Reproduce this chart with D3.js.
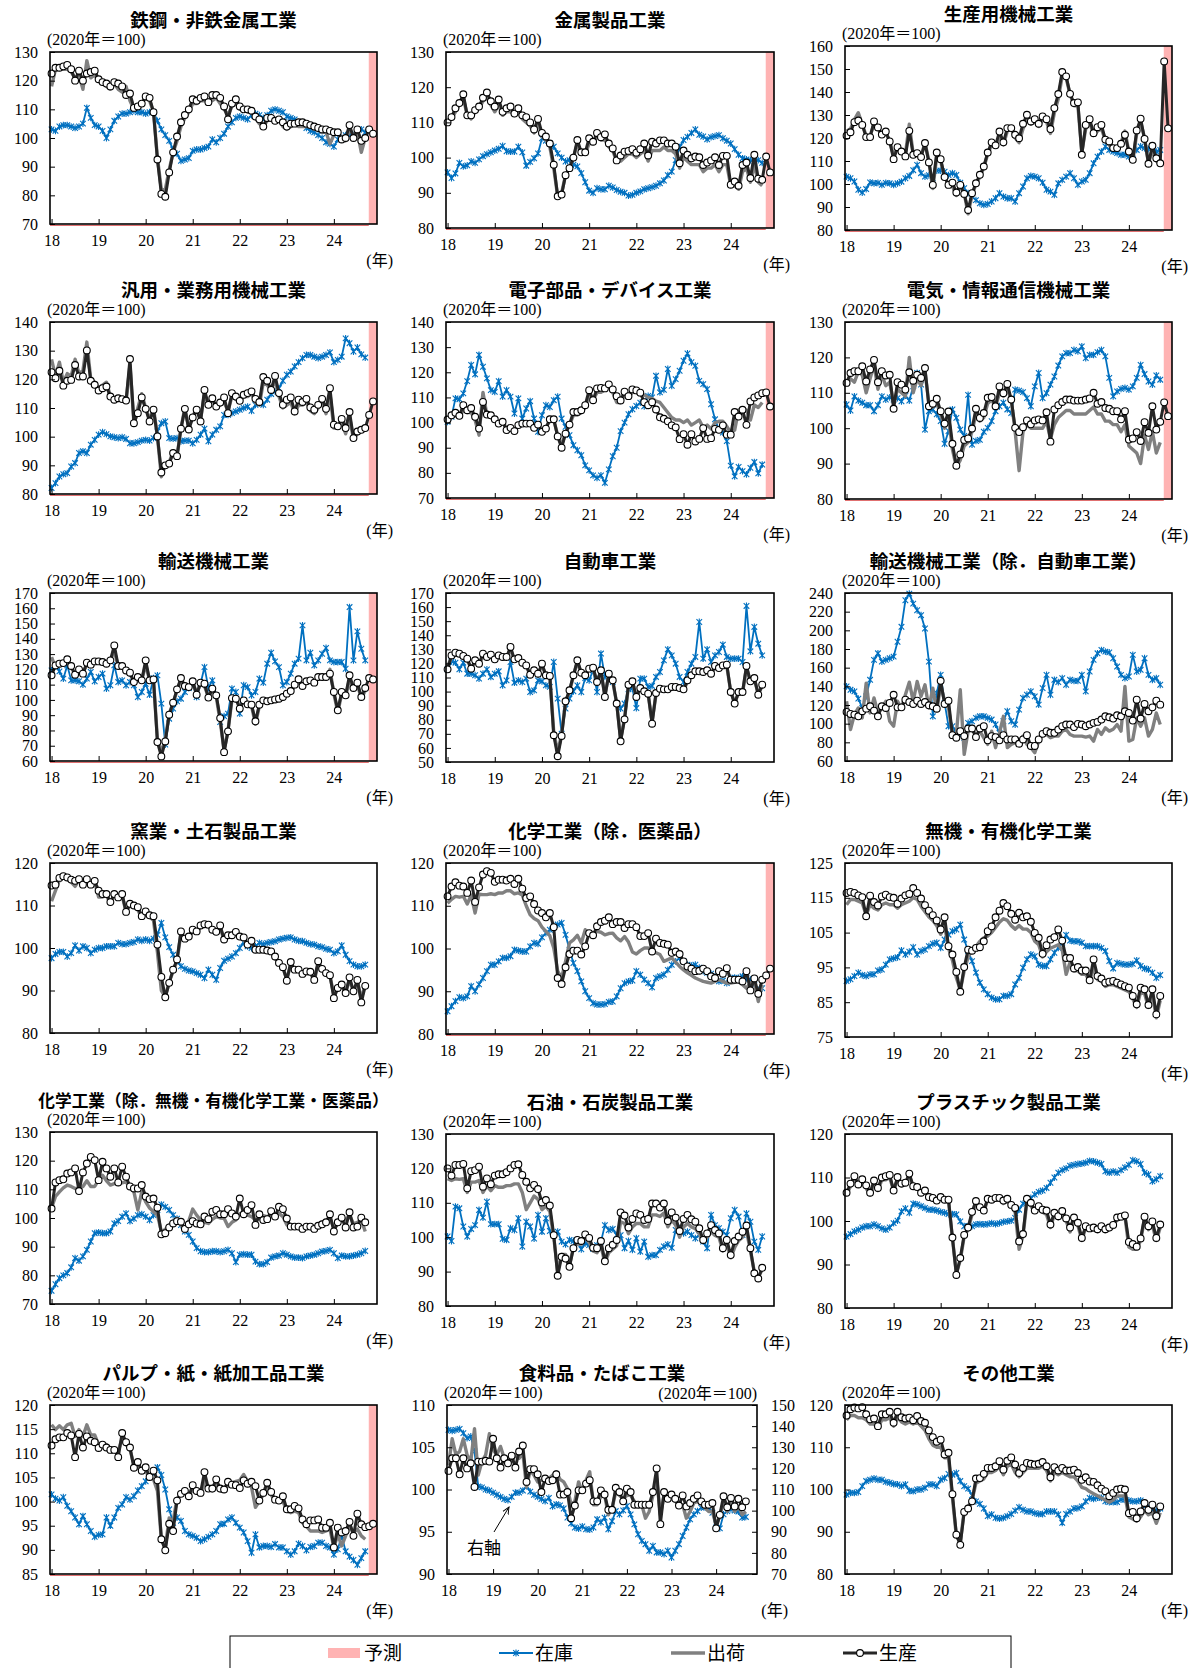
<!DOCTYPE html>
<html>
<head>
<meta charset="utf-8">
<script src="https://cdn.jsdelivr.net/npm/d3@7"></script>
<style>
  body { margin: 0; background: #fff; }
  svg text { font-family: "Liberation Serif", "Noto Sans CJK JP", serif; fill: #000; }
  .axis text { font-size: 16px; }
  .title { font-family: "Noto Sans CJK JP", sans-serif !important; font-weight: bold; font-size: 18.5px; }
  .sub { font-size: 16px; }
  .legend text { font-size: 19px; }
</style>
</head>
<body>
<svg id="chart" width="1195" height="1668"></svg>
<script>
// month index 0 = 2018/01 ... 80 = 2024/09, 81-82 = forecast

// 鉄鋼・非鉄金属工業
const prod1 = [122.5,124.5,124.5,125,125.5,124,120,123.5,120,122.5,123,123.5,
  120.5,119.5,119,118,119.5,119,118,115,115.5,110.5,111,112,
  114.5,114,109,92.5,80.5,79.5,88,95,100.5,105.5,108,110,
  113.5,113,114,114.5,112.5,115,115,114,111,106.5,112,113.5,
  111,110,110,109.5,107.5,106.5,104,107,107,106,106.5,105.5,
  104,105,105,105.5,105.5,105,104.5,104,103.5,103,103,102.5,
  102,102,99.5,100,104.5,100,103,99,100,103,101.5];
const ship1 = [118,124,124,124,124,123,121,122,117,127,121,122,
  120,119,118,117,119,117,116,118,113,110,111,112,
  114,113,109,93,82,82,89,95,99,104,107,109,
  112,112,113,113,113,113,114,112,110,108,111,112,
  110,110,109,109,107,105,104,106,107,106,107,104,
  103,104,105,104,104,104,104,103,103,102,102,98,
  101,102,100,99,103,101,102,95,100];
const inv1 = [103,102.5,104,104.5,104.5,104,103.5,104,105,110.5,107,104.5,
  104,102.5,100,103,106,107.5,108.5,108.5,109,109.5,109,109,
  108.5,109,109,106,103,101,99,96,94.5,92,92.5,93,
  95.5,96,96,96.5,97,99.5,98.5,100,101.5,104,105.5,107,
  107.5,107,106.5,108,108.5,108,107,108,109.5,110,109.5,109,
  107.5,107,106.5,105.5,105,103.5,102.5,102,101,100,98.5,98,
  97,99.5,100,101,101.5,101,102,103,102];

// 金属製品工業
const prod2 = [110,111.5,114,115.5,118,112,112,113.5,114.5,117,118.5,116,
  114.5,116.5,113,114,114.5,112.5,114,112,111.5,110,108,111,
  107,106,104,98,89,89.5,95,97,100,105,101.5,101.5,
  105.5,104.5,107,105.8,106.6,104,102.6,99.2,100.6,101.7,101.9,102.4,
  101.4,102.4,104,100.6,104.5,104,104.9,104.9,104,104,103.1,98.4,
  102,100.8,99.8,100.3,100.1,97.9,98.6,99.2,100.1,97.9,100.5,100.5,
  92.3,93.2,92,97.9,98.6,94.2,100.8,94,93.7,100.3,95.8];
const ship2 = [110,111,113,115,117,112,111,113,114,116,117,115,
  113,115,112,113,113,112,113,111,110,109,107,110,
  106,105,103,97,89,90,95,97,100,104,101,101,
  104,104,106,105,105,103,102,99,99,100,101,101,
  100,101,102,99,102,102,102,103,102,102,101,97,
  100,99,98,98,98,96,97,97,98,96,98,98,
  92,92,91,96,97,93,98,93,92];
const inv2 = [95.8,94.2,95.5,98.5,97.5,97.8,98.9,98.5,99.5,100.4,101,101.5,
  102,102.5,103.3,101.8,101.7,101.7,103.1,101.5,97.7,98.8,99.8,101.2,
  105.5,104.8,104,103.1,101.2,100,98.9,99.3,98,97.5,95.6,93,
  90.6,90,91.3,91,91,92,91.5,90.8,90.3,90,89.2,89.4,
  90,90.4,91,91.3,91.6,92,92.7,93.5,95,96,99.3,103,
  105,105.9,107,108,106.5,106,105.2,105.8,106.1,106.4,105.5,104.8,
  104,102.4,100.8,99.8,99.5,99.3,98.9,99.3,98.5];

// 生産用機械工業
const prod3 = [121,122.5,126.9,127.6,125.7,120.4,120.4,127.2,124.6,121.5,122.8,118.5,
  110.8,116,114.1,112,123.1,112.7,113.4,111.7,117.8,109.4,99.6,113.7,
  110.8,103,99.6,100.6,96.3,99.6,95.7,88.7,96,100.3,104,107.6,
  113.7,118.1,116.8,122.8,118.1,124.3,124.3,121.4,119.9,126.2,130.1,127.2,
  128.2,126.2,129.4,128.2,123.9,133,139.1,148.7,146.8,139.2,135.2,135.5,
  112.7,125.7,128.2,122.1,124.7,125.7,119.3,118.5,115.6,115.6,117.5,121.4,
  114.1,110.5,123.3,128.4,119.6,108.8,116.6,111.2,109,153.3,124.2];
const ship3 = [123,124,128,131,126,121,121,126,124,121,122,119,
  112,116,115,113,126,113,114,112,118,110,98,112,
  110,103,100,99,95,99,96,87,95,100,103,107,
  113,117,116,121,117,123,124,120,118,124,128,126,
  127,125,128,127,122,131,137,147,146,139,134,134,
  114,124,127,121,123,124,119,117,115,115,118,123,
  114,110,122,127,120,109,115,110,108];
const inv3 = [103.2,102.5,101.1,97.5,96.3,97.8,100.7,100.3,100.5,99.6,100.5,100.3,
  99.6,100.3,101,102.5,103.5,106,108.3,104.7,103.2,103.8,102.5,105.8,
  105.8,105.4,103.9,104.7,103.9,100.6,98.2,96,94.5,93,91.6,90.9,
  91.3,92.4,93.8,96,94.5,93.8,93.8,92.4,96,98.9,102.5,103.5,
  103.2,102.5,100.6,97.5,96.7,95.3,100.3,101.8,103.2,104.7,102.5,99.6,
  101.1,101.8,104.7,109,111.9,114.1,116.3,114.8,114.1,113.4,112.7,112.7,
  111.9,113.1,114.8,116.3,115.6,115.2,116.3,114.1,114.8];

// 汎用・業務用機械工業
const prod4 = [122.5,120.4,123,117.8,119.5,119.8,125,121,121,130.1,119.5,118.1,
  116.1,116.9,117.5,114,112.9,113.4,113.1,112.6,127.1,104.7,108.2,113.7,
  109.7,105.3,109.4,100.1,87.5,90,90.6,94.3,93.2,102.8,109.7,102.5,
  106.7,109.4,105.3,116.3,111.1,113.4,110.5,111.9,113.7,108.2,115.2,114,
  112.5,114.6,115.2,115.8,113.2,112.1,120.8,119.5,116.3,121.2,115.2,111.1,
  112.9,113.7,108.8,112.9,112.1,113.2,110.2,109.4,111.1,113.2,109.7,116.9,
  104.2,103.6,106.2,103,108.6,99.5,101.8,102.4,103,107.6,112.3];
const ship4 = [127,121,126,119,122,121,127,122,123,133,120,119,
  117,118,119,114,113,114,113,112,125,105,110,115,
  110,106,110,100,86,90,91,95,93,103,110,103,
  107,110,106,115,111,113,110,111,112,109,114,113,
  112,114,114,115,112,111,119,118,116,120,114,110,
  111,112,108,111,111,112,109,108,110,112,108,115,
  103,103,105,101,107,99,101,102,103];
const inv4 = [82.1,83.8,86.1,86.9,87.3,89.6,90.8,94.3,94.9,94.3,97.2,98.9,
  100.7,101.6,100.9,100.1,99.8,99.5,99.8,99.2,97.7,97.7,98.1,98.6,
  98.9,98.6,99.5,101.8,104.7,105.3,99.5,99.3,99.5,98.4,98.6,98.6,
  97.7,98.9,100.7,102.8,98.4,100.7,102.4,103.6,107.6,107.6,108.2,108.8,
  109.4,110,110.5,109,111.1,111.7,111.1,112.9,114.9,115.8,116.9,119.5,
  121.6,122.7,124.5,126,127.4,128.5,128.5,127.9,127.4,127.9,128.5,129.4,
  126,126.8,127.9,134.3,132.6,129.7,131.1,128.7,127.6];

// 電子部品・デバイス工業
const prod5 = [101.2,102.9,103.9,102.7,106.9,104.9,105.8,102.3,97.6,108.2,103.2,102.9,
  101.3,99.6,100.3,97,97.9,96.6,99,99.6,99.6,99.6,97.9,99.2,
  96.3,97.6,101.3,101.3,94.5,90,95.6,99.2,104.2,104.2,104.9,106.9,
  112.9,108.9,113.6,113.8,113.6,115.2,113.2,110.5,108.8,112.3,110.5,113.2,
  112.8,111.9,108.1,106.9,108.1,105.2,102.1,101.5,100.5,98.9,98.1,93.4,
  95.4,91.2,95.4,92.5,93.5,97.8,93.5,93.8,97.5,97.1,98.9,95.2,
  95.2,104.2,102.4,105.1,99.1,108.4,110,110.8,111.7,112,106.4];
const ship5 = [100,102,103,102,105,104,104,101,95,112,103,102,
  101,100,100,98,98,97,99,100,100,100,98,99,
  97,98,101,101,95,91,96,99,103,103,104,106,
  111,109,112,112,113,115,112,108,108,111,110,112,
  112,111,111,110,109.6,108.5,108,106,104,102,101,101,
  100,101,99,100,101,98,99,97.5,100,100.5,100.5,98.5,
  96,97,105,104,105,101,107,106,108];
const inv5 = [100.3,102.3,109.6,109.3,111.6,116.5,122.9,119.2,126.9,122.2,117.6,112.9,
  112.2,116.5,110.3,112.9,110.3,103.6,109.6,101.6,105.6,108.5,101.6,96.3,
  102.9,106.9,106.2,108.9,110.3,101.6,98.3,95,91,89,87,83,
  81,79,78,79,76,81.4,86.6,90,96.6,100,103.3,105.3,
  106.6,107.9,106.5,110.6,110,118.6,112,113,121.3,114.6,117.3,120.6,
  124.6,127.5,124,122.6,116.6,115.3,113.3,107.3,101.3,97.3,96,92.6,
  82.9,78.6,82.4,80.7,79.4,82,84.3,79.8,83.3];

// 電気・情報通信機械工業
const prod6 = [112.8,115.6,116.1,116.1,117.5,113.2,116.6,119.3,113,116.1,114.9,115.1,
  105.5,113,112.3,110.9,115.8,113.4,115.1,114.2,117,106.2,106.9,108.3,
  104.8,101.3,104.7,95.6,89.4,92.6,96.7,97.1,99.9,105.5,102.9,104.3,
  108.6,108.8,106.2,111.8,109.9,112.5,108.1,100.1,98.9,100.3,102.2,101.1,
  102.2,102.5,102.2,104.5,96.2,105.3,106.5,107.4,108.1,108.1,107.8,107.8,
  107.8,108.1,108.4,110,106.9,107.4,105.7,105.5,104.8,104.8,102.5,104.8,
  96.8,97.1,98.9,96.4,101.7,98.7,106.2,99.6,101.8,107.3,103.4];
const ship6 = [113,114,113,116,115,110,114,118,111,115,112,113,
  107,111,110,109,120,110,114,112,116,107,106,107,
  104,100,103,94,89,91,95,96,99,104,102,103,
  107,108,106,110,109,111,108,99,88,99,101,100,
  100,100,100,102,97,101,103,104,105,105,104,104,
  104,104,105,106,104,104,102,102,101,101,99,101,
  95,94,93,90,98,94,99,93,96];
const inv6 = [106.7,105,109,107.8,107.2,106.5,106.5,104.8,106.5,109,108.1,108.7,
  108.1,108.5,107.6,109.2,107.8,111.8,115.6,112.3,99.6,104.8,105.3,103.9,
  102,95.6,99.2,105.3,102.9,99.6,97.8,109.4,95.4,96.4,96.7,99,
  100.1,102,104.8,106.2,107.2,105.3,104.3,110.9,110.6,110.2,108.5,106.2,
  111.8,115.6,108.5,109.9,112.3,114.6,117.7,120.3,121.2,121.2,122.1,121.7,
  123.1,119.8,120.7,120.7,121.5,122.1,120.3,114.2,109,110.4,111.1,111.4,
  110.9,111.8,114.2,117.9,115.3,113.2,112.3,114.9,113.7];

// 輸送機械工業
const prod7 = [116.1,122.6,123.7,124.1,126.6,122.2,116.5,120,117.2,124.4,123.1,125.2,
  125.2,124.8,123.7,125.9,135.7,122.2,122.2,119.3,117.8,111.7,115,112.8,
  125.9,112.8,113.4,72.4,63,72.8,90.3,98.2,106.9,114.3,109.1,108.4,
  112.2,103.4,111.3,110.6,101.5,107.4,103,88.1,65.8,79.4,101.2,100.8,
  94.3,99.7,97.1,96.9,86,96.9,99.7,99.1,99.7,100.3,100.8,101.9,
  104.1,105.8,110,113.5,109.1,112.2,112.8,111.3,115,115,115,117.2,
  105.2,93.2,105.2,103,116.1,107.8,111.3,101.9,107.8,114.3,113.4];
const ship7 = [128,121,123,124,125,121,117,119,118,123,124,126,
  126,125,123,126,132,122,121,119,117,112,114,113,
  123,113,113,74,66,74,91,98,106,113,109,108,
  112,104,111,109,102,106,102,86,67,80,100,102,
  95,99,98,96,84,96,99,99,99,100,100,101,
  103,105,109,112,109,111,112,111,114,114,114,120,
  104,92,104,102,114,107,110,101,106];
const inv7 = [119.3,122.2,118.7,113.9,122.6,112.8,112.8,112.2,110,113.9,118.3,112.2,
  115,117.2,107.4,109.6,122.6,111.7,112.8,109.6,111.7,109.6,101.9,105.2,
  110.6,103.4,114.3,116.1,97.6,70.7,87.7,94.3,99.1,100.8,105.2,107.8,
  110.6,101.9,110.6,121.5,107.8,112.8,103,85.5,89.4,91,107.4,105.2,
  91,109.6,108.4,103,105.2,113.9,111.3,123.7,130.9,125.2,121.5,109.6,
  111.7,117.2,123.7,127,148.8,125.9,130.9,122.6,125.9,130.2,134,125.9,
  124.8,124.8,124.8,120.4,160.8,125.9,144.9,133.5,125.9];

// 自動車工業
const prod8 = [115.8,125.7,127.6,126.9,125.3,123.4,116.3,122.2,119.8,126.9,124.6,126.2,
  122.9,125.7,124.6,124.6,131.7,122.9,123.8,120.5,118.6,112,115.1,112.7,
  119.8,111.6,111.1,69,54.1,68.5,93.1,100.9,111.6,122.2,113.4,111.6,
  116.3,117,106.8,115.1,96.2,112.7,108,91.5,64.7,80.3,104.9,107.3,
  96.2,102.5,100.2,98.5,77.2,99,102.1,101.6,101.6,103.3,103.3,102.5,
  101.6,108,111.6,114.4,114.4,113.9,115.1,112.7,118.2,116.7,118.6,119.1,
  99.7,91.5,99.7,99.7,118.2,107.3,109.6,97.8,104.9];
const ship8 = [118,124,126,126,124,122,117,121,119,125,124,125,
  123,125,124,124,130,122,123,120,118,112,115,113,
  118,112,111,71,57,70,93,100,111,121,113,111,
  116,116,107,114,97,112,107,92,66,81,104,107,
  96,102,100,98,79,98,101,101,101,103,103,102,
  101,107,111,114,114,113,115,112,117,116,118,118,
  100,92,99,99,117,107,109,98,104];
const inv8 = [115.8,121.5,120.5,115.8,120.5,112.7,112.7,111.6,109.2,112.7,115.8,110.4,
  112.7,114.4,104.4,108,121,106.3,108,106.8,109.2,99.7,100.9,108,
  107.3,104.4,103.3,121,95,70.1,87.9,95,100.2,104.4,99.7,109.6,
  108,115.1,99.7,127,110.4,112.7,106.8,91.5,87.9,91.5,101.6,102.1,
  88.3,109.2,109.2,103.3,104,110.4,113.9,122.2,130,125.7,119.8,110.4,
  106.8,113.9,119.8,124.6,149.4,123.4,130,121,125.7,128.1,133.3,124.6,
  123.4,123.4,123.4,121,160.8,128.6,145.9,134,125.7];

// 輸送機械工業（除．自動車工業）
const prod9 = [112.6,110.4,109.7,107.9,113.3,116.1,118.6,114,107.9,118.6,116.8,122.2,
  131,117.5,117.5,125.7,123.2,121.1,124.6,121.1,123.2,119.7,118.6,116.1,
  145.9,121.1,124.6,87.7,84.9,92,86.7,94.8,94.8,85.6,94.8,97.3,
  82.1,86.7,85.6,82.1,87.7,83.1,83.1,83.1,78.5,83.1,87.7,76.1,
  76.1,83.1,89.1,92,90.2,90.2,93.7,97.3,99.1,99.1,96.3,99.8,
  99.1,97.3,99.1,100.9,101.9,104.4,107.9,106.9,105.5,109,107.9,113.3,
  111.5,103.3,125.7,105.5,121.1,113.3,117.5,124.6,120.4];
const ship9 = [124,93.8,109.7,116.8,106.2,143.4,111.5,127.5,111.5,116.8,124,102.6,
  97.3,124,116.8,131,144.5,124,145.2,129.3,141.7,116.8,138.1,113.3,
  141.7,124,116.8,88.4,89.1,136.3,67.1,92,93.8,88.4,92,84.9,
  77.8,92,74.3,90.2,107.9,74.3,77.8,79.6,81.3,86.7,77.8,74.3,
  69,81.3,88.4,88.4,84.9,86.7,86.7,92,93.8,88.4,86.7,86.7,
  86.7,85.6,86.7,81.3,93.8,88.4,95.5,92,94,99.1,92,139.9,
  81.3,83.1,106.2,97.3,106.2,86.7,93.8,111.5,99.1];
const inv9 = [139.9,136.3,134.6,126.8,116.8,129.3,147,168.3,175.4,166.5,168.3,170.1,
  171.8,187.8,203.8,232.2,239.3,228.6,221.5,216.2,202,166.5,107.9,132.8,
  152.3,122.2,97.3,97.3,90.2,89.1,84.9,100.9,102.6,106.2,107.9,107.9,
  106.2,104.4,99.1,90.2,102.6,113.3,102.6,99.1,115.1,127.5,131,134.6,
  129.3,120.4,138.1,152.3,131,147,144.5,148.8,141.7,147,145.9,145.9,
  152.3,134.6,155.9,168.3,175.4,178.9,177.2,176.4,170.1,161.2,152.3,148.8,
  150.5,173.7,155.9,157.7,170.1,152.3,147,148.8,141.7];

// 窯業・土石製品工業
const prod10 = [114.7,114.9,116.5,116.9,116.6,116.1,115.8,116.2,114.9,116.2,114.9,115.8,
  113.5,112.7,112.7,110.8,112.7,111.9,112.7,108.5,110.4,110,109.6,107.5,
  108.6,107.7,107.5,100.8,93.2,88.4,91.8,94.9,97.3,103.9,102.2,102.7,
  104.3,103.9,105.3,105.6,105.5,104.3,103.8,105.3,102,103,103,103.8,
  102.7,102.5,100.8,101.7,99.6,99.6,99.6,99.4,99.2,98,96.5,95.5,
  92.3,96.7,94.9,94.9,93.9,94.5,94.4,92.5,96.9,95.1,94.1,93.6,
  88.2,90.6,91.4,89.4,93.1,89.8,92.5,87.2,91.1];
const ship10 = [111,113.5,116,116.5,116.3,115.5,114.5,116,114.5,115.8,114.5,115.5,
  112,112,112.3,110.5,112.5,111.5,112.3,108.5,110,109.8,109,107,
  108,107.3,106.5,99,90,88.5,92,94.5,97,103.5,102,102.3,
  104,103.5,105,105.2,105,104,103.5,104.8,101.8,102.6,102.8,103.4,
  102.3,102,100.5,101.4,99.4,99.4,99.3,99.1,99,97.6,96.2,95.2,
  92.8,96,94.6,94.5,93.6,94,94,92.4,96.2,94.8,93.8,93.4,
  89,90.5,91,89.6,92.5,89.8,92,88,91.5];
const inv10 = [97.6,98.6,99.1,99.1,98,98.8,100.6,99.4,100.4,100,98.8,99.6,
  100,100,100.4,100.4,100.4,101.2,100.9,100.9,101.2,101.4,102,101.7,
  102,101.7,102.2,103.1,105.9,102.5,100.2,98.4,96.9,95.7,95.1,94.7,
  94.5,94.1,93.7,92.9,94.9,93.7,92.5,95.3,97,97.5,98,98.8,
  100,101.4,100.4,100,100.4,101.2,100.9,101.2,101.4,101.6,102,102.2,
  102.4,102.5,102,101.7,101.6,101.2,100.9,100.8,100.4,100.2,99.8,99.6,
  98.8,99.2,100.6,98.4,96.9,96.1,95.7,95.7,96.1];

// 化学工業（除．医薬品）
const prod11 = [112.2,114.5,115.5,114.7,114.5,113,115.9,110.9,114.3,117.3,118.1,117.7,
  115.6,116.1,116.1,115.9,116.3,115.1,116.3,114,111.8,112.2,110.4,108.9,
  108.3,107.3,108.3,105,93.1,91.7,95.6,98.7,99.5,99.5,98.6,100.5,
  103.6,103.1,105.2,106.2,106.5,107.3,105.7,106.2,106.2,104.8,105.7,105.7,
  105,102.9,102.9,103.6,99.3,102.3,101.3,101.1,100.9,99,99.3,98.7,
  97,95.8,95.3,94.7,94.8,95.3,94.7,93.5,93.1,94.7,94.1,95.4,
  92.7,92.7,92.7,92.3,94.7,90.2,93,89.4,92.7,93.7,95.3];
const ship11 = [110.6,111.5,112.2,112,112.2,110.4,112.5,108.3,112.7,112.6,112.6,112.8,
  112.6,113,113,113.5,113.5,112.8,113,112.5,110,107.9,107,106.5,
  105,104,103,100.1,94.7,93.1,97,101.3,102,103.1,101.3,104.4,
  103.6,103.5,104,103.8,103.2,103.5,103.6,102.5,101.8,102.8,101.5,99.2,
  98.7,99.5,100.1,100.1,99.7,99,98.6,97,97.4,97.8,96.8,95.8,
  95,94.3,93.7,93.1,92.7,92.3,92.1,91.9,92.3,92.7,92.3,91.9,
  91.9,92.1,92.3,91.5,90.7,92,92,87.6,91.5];
const inv11 = [85.3,86.5,87.7,88.6,88.4,88.8,91.2,90,91.6,93.1,94.7,96.2,
  96.2,97,97.8,97.8,98.2,99.7,99.5,99.3,99.3,100.5,101.3,101.1,
  102.6,103.6,104.4,105.2,105.6,106,103.2,99.7,96.6,94.7,92.3,90,
  88.4,87.2,86.9,86.9,87,87.5,87.6,88.8,90.7,91.9,92.3,92.5,
  94.7,93.9,92.7,91.9,90.9,93.1,93.5,93.9,95,96.2,97,97.8,
  97,96.2,96,96.2,95.5,94.7,94.3,94.1,93.5,92.3,92.5,91.9,
  93.1,93.2,93.1,93.5,93.1,92.7,91.5,90.3,90.7];

// 無機・有機化学工業
const prod12 = [116.4,116.7,116.4,115.7,115.2,109.7,115.6,113.8,112.8,115.4,115.9,115.2,
  115,113.3,114.8,115.7,116.1,117.8,116.4,114.8,112.9,111.3,110,108.5,
  105.9,109.4,101.1,98.7,93.7,88,95.1,100.1,99.8,100.6,100.8,102.5,
  105.4,106.8,109.4,111.3,113.5,112.6,110.4,108.7,110.7,109.4,109.7,108.1,
  104.9,103.5,98.9,101.4,103,103.7,105.9,102.7,97.7,97.7,94.7,95.1,
  94.1,94.1,91.3,97.3,92.5,91.8,90.6,90.9,91.1,90.6,90.1,89.6,
  89.2,86.8,84.4,89.2,88.7,84.2,88.7,81.5,86.8];
const ship12 = [113,114.5,114.5,114,113.5,110,113,112,111.5,113,113.5,113,
  113,112,113,113.5,114,115,114.5,112.5,111,109.5,108.5,107,
  104.5,107,100.5,97,92,88.5,94,98,100,101,102.5,103.5,
  104,105,106.5,108,109,108.5,107,106,107,106,106,105,
  102.5,101.5,98,99.5,100.5,101,101.5,100,93,96.5,94,94,
  93,93,91,95,91.5,91,89.5,90,90,89.5,89,88.5,
  88,86,83.5,88,87.5,83.5,87.5,80.5,85.5];
const inv12 = [91.1,91.6,92.5,93.5,92.8,92.5,93,93,94.1,94.4,95.8,97.3,
  97.6,97.9,99.9,98.7,99.5,100.8,98.7,99.7,100.1,101.1,101.8,102.1,
  100.6,103,104.4,105.4,105.9,107.3,103,99.7,96.8,93.5,90.6,88.7,
  87.3,86.3,85.8,85.8,86.8,86.8,87.3,90.1,92,94.9,97.3,98.7,
  98.2,95.8,95.4,95.4,97.3,99.2,100.6,102.1,104.3,102.7,102.5,102.5,
  102.1,101.1,101.1,101.1,101.1,100.6,99.7,96.8,94.7,96.3,96,95.8,
  95.8,96,97,95.4,94.7,94.4,93.5,92,92.8];

// 化学工業（除．無機・有機化学工業・医薬品）
const prod13 = [103.3,112.4,113.2,113.5,115.5,115.9,117.3,109.4,115.9,119,121.3,120.2,
  113.2,119.6,117.3,114.4,117.3,112.4,117.9,114.4,111,110.3,110.3,111.5,
  107.5,106.6,106.8,103.6,94.3,94.7,96.7,98.1,98.9,98.7,96.2,97.8,
  98.9,98.1,97.8,100.5,99.6,102.2,102.8,101.3,101.3,103.1,101.6,100.5,
  106.8,101.3,102.8,104.5,97.6,101.3,99.3,99.6,102.4,100.5,103.9,103.1,
  99.8,97,97,97,96.2,97,97,96.2,97.3,97.8,98.5,101.3,
  95.3,98.5,100.1,96.7,102,96.7,97,100.1,98.5];
const ship13 = [103.5,107.5,109.1,110.5,111.5,111,110.3,110.3,111,113,111,111,
  113.2,114.9,113,111.5,112,112,112.3,112.6,110.5,109.1,102.8,109.1,
  105.6,103.5,102.2,101,95.3,96,97.5,99,99.9,97.5,95.9,99,
  103.1,101,99.3,98.5,98.1,99.5,100.5,100,99.9,97,98.5,99.3,
  101.5,101,101,100.5,99.3,99.8,100.8,100.5,100.5,101,101.6,100.5,
  97.6,97,96.4,96.5,97,97,97,97,97.6,98.5,99,99.9,
  96.5,98,99.5,99.3,101,98,98.5,99.3,95.3];
const inv13 = [74.6,76.9,79,80,80.8,82.8,86,85.1,86.6,88.9,91.8,94.7,
  95,94.7,94.7,95.3,98.1,98.9,100.5,101.6,98.9,99.8,101,101.3,
  100.5,99.3,101,102.8,104.7,103.9,102.8,101,99.8,97.5,95.3,94.1,
  91.8,89.5,88.4,88.1,88.1,88.4,88.4,88.1,88.4,88.9,87.7,84.6,
  87.2,87.4,87.2,87.2,84.8,83.9,83.9,84.6,86.2,86.6,86.9,87.7,
  87.2,86.6,86.2,86.2,86,86.6,86.9,87.2,87.7,88.3,88.5,88.9,
  87.7,86,86.9,86.6,86.6,86.9,87.2,87.7,88.5];

// 石油・石炭製品工業
const prod14 = [120,117.9,121,121,121.3,114.2,119.2,119.5,120.5,114.7,117.1,115.4,
  117.9,118.3,118.3,118.9,120,121,121.2,118.1,116.1,114.2,115.2,114,
  110.1,110.8,109.2,100.6,88.8,94.3,93.8,91.4,96.8,99.2,98.9,100.8,
  99.8,96.9,96.8,98.9,93,96.8,97.8,99.2,107.2,106.3,102.8,105.3,
  106.9,106.5,105,105.3,109.8,109.8,108.6,109.8,104.7,107.2,105.7,101.8,
  105.3,106.5,105.2,104.5,102.6,99.2,101.1,103.5,102.1,101.1,96.8,99.2,
  94.8,98.9,100.2,101.6,103.4,96.8,89.5,88,91.1];
const ship14 = [117,116.5,117,116.8,117,113,116,116,116.5,113,115,113.5,
  115,114.5,114.5,115,115,115.5,115.5,113,108,110,112,111,
  108,109,107.5,100,90,95,95,92,97,98,98,100,
  98.5,96,95.5,97.5,92.5,95.5,96.5,97.5,104.5,104,101,103,
  104,104,103,103,106.5,106.5,106,107,103,105,103.5,100,
  103,104,103,102.5,101,98.5,100,101.5,100.5,100,96,98,
  94,97,99,100,102,96,90,88.5,90.5];
const inv14 = [100.2,98.9,108.9,108.4,103.1,100.2,102.4,103.5,107.9,105.7,110.3,103.8,
  103.8,103.8,99.5,99.2,102.6,102.1,105.5,97.3,104.5,103.1,99.6,106.5,
  101.6,105.5,101.8,100.8,101.6,98.7,97.9,99.2,98.9,98.9,96.5,98.2,
  97.7,96.6,97.7,98.7,103.5,102.1,102.4,100.6,100.6,96.8,98.9,96.3,
  99.7,95.8,98.7,94.3,94.8,94.8,96.3,97.3,97.9,96.9,102.1,102.6,
  101.1,101.6,100.6,99.7,100.6,98.7,96.8,106.5,103.5,102.6,101.6,100.6,
  105.5,107.9,106,100.6,106.9,104.5,98.7,96.3,100.2];

// プラスチック製品工業
const prod15 = [106.5,108.6,110.3,108.4,109.6,108.2,106.5,109.3,107.6,110,110.3,110.6,
  107,110.1,108.6,108.8,110.9,108,107.8,106.5,107,105.5,105.3,104.7,
  105.5,104.9,104.9,96.2,87.6,91.5,96.8,98.5,102.1,104.6,103.2,102.4,
  105.1,104.9,105.3,105.3,104.7,105.1,103.7,103,95.3,97,105.1,104.2,
  102.4,103.4,102.6,102.4,99.2,101.9,101.1,102.3,100.6,98.5,100.8,99.6,
  96.1,98.8,98.3,98.5,98.1,98.8,98.1,98.5,99.1,100.8,101,101.3,
  95.2,94.7,94.1,96,101,98.8,99.9,96.1,99.2];
const ship15 = [106,108,109.5,108,109,107.5,106,108.5,107,109.5,109.5,110,
  107,109.5,108,108.5,110.5,107.5,107.5,106.5,106.5,106,105.8,104.5,
  105.5,105,104.5,96,88,91,96.5,98,101.5,104,103,102,
  105,105,105.5,105,104,104.5,103.5,102,93.5,96.5,104.5,103.5,
  102,103,102,101.5,98.5,101.5,100.5,101.5,100,97.5,100,99,
  95.5,98.5,98,98,97.5,98.5,97.5,98,98.5,100.5,100.5,101,
  94,93.5,93.5,95.5,100.5,98,99,95.5,98.5];
const inv15 = [96.4,97,97.6,98,98.5,98.8,98.8,99.2,98.8,98.3,98,98.5,
  99.5,100.1,102.2,102.9,101.9,104,103.8,103.4,103,102.6,102.6,102.4,
  102.1,101.9,101.6,101.6,101.5,99.9,98.8,98.8,98.8,99.2,99.3,99.2,
  99.3,99.5,99.3,99.5,99.8,99.9,100.1,100.7,102.6,104,104.6,105.3,
  106.1,106.7,107,107.6,108.8,110,111.1,111.7,112.1,112.7,112.9,113.1,
  113.2,113.4,113.8,113.7,113.4,113.1,111.4,111.1,111.4,111.1,111.7,112.3,
  112.9,114,113.7,113.1,111.1,110.7,109.1,109.6,110.3];

// パルプ・紙・紙加工品工業
const prod16 = [111.6,112.9,113.3,113.3,114.2,113.7,109.2,114,111.2,113.5,112.6,112.3,
  111.1,111.8,111.2,110.7,110.7,109.2,114.2,112.3,111.2,107,108.2,106.4,
  107.1,105.1,106.4,104.4,92.2,89.9,95.4,93.9,100.2,101.6,102.2,101.1,
  103.4,102.2,101.8,106.1,102.7,102.7,104.6,102.7,102.5,104.1,103.5,103.4,
  102.8,104.4,103.7,104.1,103.2,100.2,101.8,103.9,102,100.4,100.2,101.1,
  98.4,98.4,99.1,98.6,96.3,95.3,96.1,96.1,96.3,94.6,94.6,95.6,
  90.5,94.6,93.6,93.9,95.8,92.9,97.5,95.3,94.7,94.9,95.4];
const ship16 = [115.9,114.9,115.7,114.9,115.9,116.2,113.5,114.9,113.5,115.9,113.8,113.8,
  111.8,111.5,111.8,110.4,111,110.4,113.1,111.8,110.8,107.6,107,105.9,
  106.3,104.9,104.6,102.2,92.2,90.5,96.6,95.9,100.7,101.4,101.8,101.1,
  102.5,101.8,101.4,104.2,102.5,102.2,103.5,102.2,102.2,103.3,103.9,104.2,
  104.4,105.6,104.2,103,98.8,100.1,101.4,102.8,101.4,100.1,100.1,100.1,
  98,97.7,98,97.7,95.6,94.9,93.9,93.9,93.9,93.6,93.9,94.3,
  90.5,93.2,90.8,92.9,94.9,93.6,94.3,92.9,92.2];
const inv16 = [101.5,100.6,100.2,100.9,99.1,98,96.7,95.3,97,95.3,93.9,92.7,
  93.1,93.2,96.7,95,96.7,98.7,99.4,100.9,100.4,101.1,102.3,103.2,
  104.2,105.2,106.1,107.1,105.5,102.5,98.4,95.6,96.7,96,93.9,93.2,
  92.9,92.5,91.8,92.2,92.7,93.2,93.9,95.3,95.4,96.3,96.7,95.6,
  94.6,93.6,91.8,89.4,93.2,90.5,90.8,90.8,90.6,91.2,90.5,90.5,
  89.7,89,89.7,91.3,90.8,89.9,90.6,90.8,91.5,91.5,90.8,90.5,
  89,90.1,92.9,89.7,88.6,87.9,86.9,88.3,89.7];

// 食料品・たばこ工業（在庫は右軸）
const prod17 = [102.2,103.7,103.7,101.8,103.7,102.5,103.1,100.3,103.3,103.3,103.4,103.3,
  106,103.7,102.6,103.7,103.1,104,102.6,104.5,105.2,100.9,102.4,102.4,
  101.8,99.7,101.3,101,101.1,101.8,99.4,99.4,99.7,96.6,98.1,99.9,
  99.9,100.7,101.1,98.6,98.6,99.9,99.4,97.6,97.6,100.2,99.7,98.6,
  100.1,99.7,98.2,98.2,98.2,98.2,98.2,99.7,102.5,95.9,99.7,98.9,
  99.4,98.9,98.1,99.3,98,98.4,98.9,99.3,98.6,98.2,98.2,98.4,
  95.4,97,99.2,97.9,99,98,98.9,97.9,98.6];
const ship17 = [102.9,106,104.1,104.5,106,104.1,103.3,107.2,101.7,103.3,104.1,106.6,
  104.7,104.1,105.1,103.7,103.7,103.3,104.1,103.7,104.3,100.3,102.3,101.7,
  100.9,101.1,101.1,101.3,101.7,102.1,101.2,100.9,100.1,98.2,98.6,100.9,
  99.7,101.1,102.1,98.2,98.2,99.2,99.4,97,97.8,99.7,99.3,98.9,
  99.3,99.3,98.6,98.2,98.2,96.6,97.4,99.3,101.3,97,99.3,98.9,
  99.2,98.6,98.2,98.2,96.6,97.4,98.4,98.6,98.2,97.8,97.4,97.4,
  95.8,96.8,98.6,97.4,98.2,97.4,98,97,97.4];
const inv17 = [138.2,137.8,138.2,138.7,136.7,134.3,135.1,128,111.5,111,110,109.5,
  108.5,107.5,106.5,105.5,105,106.5,108.5,108.5,109.5,111.6,109,107.5,
  106.5,105.5,104.5,106,102,103,102.5,101,96.7,94,92,91.5,
  92.5,91.2,91,92,95.9,94.5,96.7,91.2,95,99.8,98.2,100.1,
  102.2,98.2,93.5,88.8,85.7,84.1,81,83.3,80.2,80.2,79.4,81,
  77.8,81,84.1,88,92,95.9,98.2,99.8,101.4,101.7,101.4,99,
  92,91.6,98.2,99.8,100.6,100,99.5,96.7,97];

// その他工業
const prod18 = [117.5,119,119.4,119.2,119.5,117.8,116.6,116.8,115,117.8,117.8,118.4,
  115.8,118.4,117.1,116.8,117,116.4,117.4,116.2,115.8,114,112.4,111.3,
  111.8,108.3,108.7,98.9,89.3,86.9,94.7,95.5,97.2,102.6,102.7,103.7,
  105.1,105.1,105.5,106.7,104.7,106.8,107.6,105.9,103.9,105.1,106.3,106.1,
  105.9,106.1,106.5,105.5,102.9,105.3,104.5,105.1,104.5,104.5,104.7,103.9,
  102.3,102.9,101.9,101.8,101,100.2,99.6,98.4,99.2,100,100.2,100,
  94.4,94.7,93.2,94.8,96.8,95.2,96.4,93.7,96];
const ship18 = [116.5,117.5,117.5,117,117,116.5,115.5,115.5,114.5,116.5,116.5,117,
  115,117,116,115.5,116,115.5,116,115,114,112,110.5,110,
  110,107.5,107.5,98,89,87.5,95,96,97.5,101.5,102,102.5,
  104,104,104.5,105.5,103.5,105.5,106,104,103,104,105,105,
  105,105,105.5,104.5,102,104,103.5,104,103.5,103,103,102,
  100.5,100.2,99.5,99,98.5,98,97.5,97,97.5,98.5,98.5,98.5,
  93.5,93,92.5,93.5,95,94,94.5,92,94.5];
const inv18 = [98.8,99.2,99.2,99.4,100.8,102,102.3,102.6,102.3,102.3,101.8,101.6,
  101.3,101.2,100.8,101.2,99.7,99.6,100,100,100.4,101.2,101.2,100.8,
  102.3,102.7,103.7,103.5,103.9,102,100.8,100.2,98.6,97.2,96.6,95.5,
  93.7,94.1,93.3,93.1,93.3,93.7,94.2,95,95.8,95.2,94.8,94.8,
  94.4,94.2,94.2,94.8,94.8,94.8,94.1,92.1,94.2,94.8,95.5,95.6,
  96,97.2,98,97.8,98.1,98,97.2,97,97,97,97.6,97.6,
  97.4,97.2,97.2,97.4,96.4,95.6,95,95,95.5];

const titles = ["鉄鋼・非鉄金属工業", "金属製品工業", "生産用機械工業",
  "汎用・業務用機械工業", "電子部品・デバイス工業", "電気・情報通信機械工業",
  "輸送機械工業", "自動車工業", "輸送機械工業（除．自動車工業）",
  "窯業・土石製品工業", "化学工業（除．医薬品）", "無機・有機化学工業",
  "化学工業（除．無機・有機化学工業・医薬品）", "石油・石炭製品工業", "プラスチック製品工業",
  "パルプ・紙・紙加工品工業", "食料品・たばこ工業", "その他工業"];
// y axis [min, max, step]
const yAxes = [[70,130,10],[80,130,10],[80,160,10],[80,140,10],[70,140,10],[80,130,10],
  [60,170,10],[50,170,10],[60,240,20],[80,120,10],[80,120,10],[75,125,10],
  [70,130,10],[80,130,10],[80,120,10],[85,120,5],[90,110,5],[80,120,10]];
const series = [[prod1,ship1,inv1],[prod2,ship2,inv2],[prod3,ship3,inv3],[prod4,ship4,inv4],
  [prod5,ship5,inv5],[prod6,ship6,inv6],[prod7,ship7,inv7],[prod8,ship8,inv8],[prod9,ship9,inv9],
  [prod10,ship10,inv10],[prod11,ship11,inv11],[prod12,ship12,inv12],[prod13,ship13,inv13],
  [prod14,ship14,inv14],[prod15,ship15,inv15],[prod16,ship16,inv16],[prod17,ship17,inv17],
  [prod18,ship18,inv18]];
const forecast = [1,1,1,1,1,1,1,0,0,0,1,0,0,0,0,1,0,0];

// layout (plot box top / bottom for each panel)
const cols = [[50,377],[446,774],[845,1172]];
const tops = [52,52,46, 322,322,322, 593,593,593, 863,863,863, 1132,1134,1134, 1405,1405,1405];
const bots = [224,228,230, 494,498,499, 761,762,761, 1033,1034,1037, 1304,1306,1308, 1574,1574,1574];

const svg = d3.select("#chart");
svg.append("defs").append("marker")
  .attr("id", "arrow").attr("viewBox", "0 0 10 10").attr("refX", 9).attr("refY", 5)
  .attr("markerWidth", 8).attr("markerHeight", 8).attr("orient", "auto")
  .append("path").attr("d", "M0,1L9,5L0,9").attr("fill", "none").attr("stroke", "#000").attr("stroke-width", 1.2);

const star = "M-2.8,-2.8L2.8,2.8M-2.8,2.8L2.8,-2.8M0,-3.4V3.4";
const BLUE = "#0070c0", GRAY = "#808080", BLACK = "#262626";

function drawPanel(k) {
  let [l, r] = cols[k % 3];
  const t = tops[k], b = bots[k];
  const dual = k === 16;
  if (dual) { l = 447; r = 757; }
  const [prod, ship, inv] = series[k];
  const [ymin, ymax, step] = yAxes[k];

  const x = d3.scaleLinear().domain([-0.4, 83]).range([l, r]);
  const y = d3.scaleLinear().domain([ymin, ymax]).range([b, t]);
  const y2 = dual ? d3.scaleLinear().domain([70, 150]).range([b, t]) : y;
  const g = svg.append("g");

  // forecast band
  if (forecast[k]) {
    const fx = x(80.9);
    g.append("rect").attr("x", fx).attr("y", t).attr("width", r - fx).attr("height", b - t)
      .attr("fill", "#ffb3b3");
    g.append("line").attr("x1", l).attr("x2", fx).attr("y1", b + 1.5).attr("y2", b + 1.5)
      .attr("stroke", "#e07070").attr("stroke-width", 1.2);
  }

  const line = sc => d3.line().x((d, i) => x(i)).y(d => sc(d));

  // inventory
  g.append("path").datum(inv).attr("d", line(y2))
    .attr("fill", "none").attr("stroke", BLUE).attr("stroke-width", 1.8);
  g.selectAll(null).data(inv).join("path")
    .attr("d", star)
    .attr("transform", (d, i) => `translate(${x(i)},${y2(d)})`)
    .attr("fill", "none").attr("stroke", BLUE).attr("stroke-width", 1.1);

  // shipments
  g.append("path").datum(ship).attr("d", line(y))
    .attr("fill", "none").attr("stroke", GRAY).attr("stroke-width", 3.4)
    .attr("stroke-linejoin", "round");

  // production
  g.append("path").datum(prod).attr("d", line(y))
    .attr("fill", "none").attr("stroke", BLACK).attr("stroke-width", 3)
    .attr("stroke-linejoin", "round");
  g.selectAll(null).data(prod).join("circle")
    .attr("cx", (d, i) => x(i)).attr("cy", d => y(d)).attr("r", 3.4)
    .attr("fill", "#fff").attr("stroke", "#000").attr("stroke-width", 1.1);

  // frame
  g.append("rect").attr("x", l).attr("y", t).attr("width", r - l).attr("height", b - t)
    .attr("fill", "none").attr("stroke", "#000").attr("stroke-width", 1.6);

  // axes
  const ya = g.append("g").attr("class", "axis").attr("transform", `translate(${l},0)`)
    .call(d3.axisLeft(y).tickValues(d3.range(ymin, ymax + 0.01, step))
      .tickSizeInner(-5).tickSizeOuter(0).tickPadding(12));
  ya.select(".domain").remove();

  if (dual) {
    const ya2 = g.append("g").attr("class", "axis").attr("transform", `translate(${r},0)`)
      .call(d3.axisRight(y2).tickValues(d3.range(70, 150.01, 10))
        .tickSizeInner(-5).tickSizeOuter(0).tickPadding(14));
    ya2.select(".domain").remove();
  }

  const xa = g.append("g").attr("class", "axis").attr("transform", `translate(0,${b})`)
    .call(d3.axisBottom(x).tickValues(d3.range(0, 73, 12)).tickFormat(d => 18 + d / 12)
      .tickSizeInner(-5).tickSizeOuter(0).tickPadding(11));
  xa.select(".domain").remove();

  // texts
  const tt = g.append("text").attr("class", "title").attr("x", (l + r) / 2).attr("y", t - 25)
    .attr("text-anchor", "middle").text(titles[k]);
  if (titles[k].length > 18) tt.style("font-size", "16.7px");
  g.append("text").attr("class", "sub").attr("x", l - 3).attr("y", t - 7).text("(2020年＝100)");
  if (dual) {
    g.append("text").attr("class", "sub").attr("x", r).attr("y", t - 6)
      .attr("text-anchor", "end").text("(2020年＝100)");
    g.append("text").attr("class", "sub").attr("x", 467).attr("y", 1554).style("font-size", "17px").text("右軸");
    g.append("line").attr("x1", 494).attr("y1", 1532).attr("x2", 509).attr("y2", 1507)
      .attr("stroke", "#000").attr("stroke-width", 1).attr("marker-end", "url(#arrow)");
  }
  g.append("text").attr("class", "sub").attr("x", (dual ? 788 : r + 16)).attr("y", b + 42)
    .attr("text-anchor", "end").text("(年)");
}

d3.range(18).forEach(drawPanel);

// legend
const lg = svg.append("g").attr("class", "legend");
lg.append("rect").attr("x", 230).attr("y", 1636).attr("width", 781).attr("height", 45)
  .attr("fill", "none").attr("stroke", "#000").attr("stroke-width", 1);
const legendItems = ["予測", "在庫", "出荷", "生産"];
const legendX = [328, 499, 671, 843];
legendItems.forEach((name, i) => {
  const x0 = legendX[i], yc = 1653;
  if (i === 0) {
    lg.append("rect").attr("x", x0).attr("y", yc - 5).attr("width", 32).attr("height", 10).attr("fill", "#ffb3b3");
  } else if (i === 1) {
    lg.append("line").attr("x1", x0).attr("x2", x0 + 34).attr("y1", yc).attr("y2", yc)
      .attr("stroke", BLUE).attr("stroke-width", 1.8);
    lg.append("path").attr("d", star).attr("transform", `translate(${x0 + 17},${yc})`)
      .attr("fill", "none").attr("stroke", BLUE).attr("stroke-width", 1.1);
  } else if (i === 2) {
    lg.append("line").attr("x1", x0).attr("x2", x0 + 34).attr("y1", yc).attr("y2", yc)
      .attr("stroke", GRAY).attr("stroke-width", 3.4);
  } else {
    lg.append("line").attr("x1", x0).attr("x2", x0 + 34).attr("y1", yc).attr("y2", yc)
      .attr("stroke", BLACK).attr("stroke-width", 3);
    lg.append("circle").attr("cx", x0 + 17).attr("cy", yc).attr("r", 3.4)
      .attr("fill", "#fff").attr("stroke", "#000").attr("stroke-width", 1.1);
  }
  lg.append("text").attr("x", x0 + 36).attr("y", yc + 7).text(name);
});
</script>
</body>
</html>
